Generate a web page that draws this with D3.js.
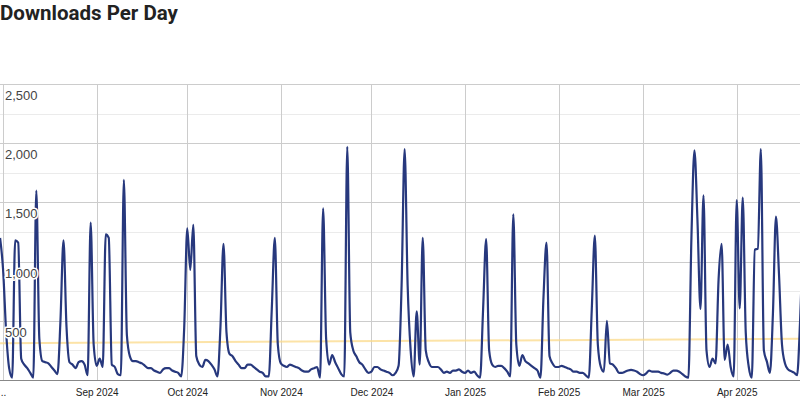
<!DOCTYPE html>
<html><head><meta charset="utf-8">
<script src="https://cdn.jsdelivr.net/npm/d3@7"></script>
<style>
html,body{margin:0;padding:0;background:#fff;overflow:hidden}
svg{display:block}
</style></head><body>
<svg id="chart" width="800" height="401"></svg>
<script>
const title = "Downloads Per Day";
const startDate = "2024-07-31";
// one value per day, starting at startDate
const downloads = [
  1200, 930, 410, 100, 20, 1180, 1160, 180, 130, 100, 60, 20,
  1600, 350, 160, 150, 140, 110, 80, 50, 500, 1180, 450, 150,
  130, 100, 150, 160, 130, 40, 1330, 300, 120, 180, 110, 1230,
  1200, 130, 110, 50, 40, 1690, 380, 200, 160, 160, 150, 140,
  120, 100, 100, 80, 70, 60, 90, 100, 100, 80, 70, 60,
  30, 450, 1280, 930, 1310, 200, 130, 110, 170, 160, 130, 90,
  30, 450, 1150, 400, 220, 200, 160, 130, 100, 100, 130, 130,
  110, 90, 70, 60, 30, 30, 600, 1200, 300, 140, 120, 110,
  130, 120, 110, 100, 80, 70, 70, 90, 100, 110, 20, 1450,
  350, 130, 210, 150, 100, 50, 30, 1970, 400, 250, 200, 150,
  130, 90, 60, 70, 110, 110, 90, 80, 70, 60, 40, 60,
  120, 800, 1950, 800, 250, 30, 580, 130, 1200, 250, 150, 110,
  110, 110, 90, 60, 70, 60, 80, 80, 90, 70, 60, 80,
  60, 70, 40, 20, 600, 1190, 250, 130, 110, 120, 120, 100,
  70, 30, 1400, 300, 120, 210, 160, 140, 120, 100, 80, 20,
  700, 1160, 200, 140, 110, 110, 120, 110, 100, 90, 70, 70,
  60, 60, 40, 20, 600, 1220, 300, 110, 70, 500, 140, 130,
  100, 60, 60, 70, 80, 85, 80, 70, 50, 40, 55, 80,
  70, 70, 70, 60, 55, 45, 60, 80, 80, 70, 50, 30,
  20, 1200, 1940, 1350, 600, 1560, 250, 110, 180, 140, 850, 1150,
  170, 300, 110, 30, 1520, 605, 1540, 400, 110, 20, 1100, 1110,
  1950, 250, 155, 60, 560, 1380, 900, 300, 140, 90, 75, 62,
  40, 500, 1200
];
// linear trendline, read at the first and the last day
const trendValues = [310, 349];
const yTickValues = [500, 1000, 1500, 2000, 2500];
const yTickLabels = ["500", "1,000", "1,500", "2,000", "2,500"];
const yMinorValues = [250, 750, 1250, 1750, 2250];
const xTickDates = ["2024-08-01", "2024-09-01", "2024-10-01", "2024-11-01", "2024-12-01",
                    "2025-01-01", "2025-02-01", "2025-03-01", "2025-04-01"];
const xTickLabels = ["..", "Sep 2024", "Oct 2024", "Nov 2024", "Dec 2024",
                     "Jan 2025", "Feb 2025", "Mar 2025", "Apr 2025"];

const W = 800, H = 401;
const plot = {left: 0, right: 800, top: 84, bottom: 380};
const parse = d3.timeParse("%Y-%m-%d");
const start = parse(startDate);
const data = downloads.map((v, i) => ({date: d3.timeDay.offset(start, i), value: v}));
const tickDates = xTickDates.map(parse);

const x = d3.scaleTime()
  .domain([parse("2024-08-01"), parse("2025-04-01")])
  .range([3.1, 736.7]);
const y = d3.scaleLinear().domain([0, 2500]).range([plot.bottom, plot.top]);

const svg = d3.select("#chart");
svg.append("rect").attr("width", W).attr("height", H).attr("fill", "#fff");

// title
const t = svg.append("text")
  .attr("x", 0).attr("y", 19.5)
  .attr("font-family", "Roboto, Arial, sans-serif")
  .attr("font-weight", 700)
  .attr("font-size", 20)
  .attr("fill", "#222")
  .text(title);
const tw = t.node().getComputedTextLength();
t.attr("font-size", 20 * 178 / tw);

svg.append("defs").append("clipPath").attr("id", "clip")
  .append("rect").attr("x", plot.left).attr("y", plot.top - 2)
  .attr("width", plot.right - plot.left).attr("height", plot.bottom - plot.top + 2);

const grid = svg.append("g");
// minor horizontal
grid.selectAll("line.minor").data(yMinorValues).join("line")
  .attr("x1", plot.left).attr("x2", plot.right)
  .attr("y1", d => Math.round(y(d)) + 0.5).attr("y2", d => Math.round(y(d)) + 0.5)
  .attr("stroke", "#ebebeb").attr("stroke-width", 1);
// major horizontal
grid.selectAll("line.major").data(yTickValues).join("line")
  .attr("x1", plot.left).attr("x2", plot.right)
  .attr("y1", d => Math.round(y(d)) + 0.5).attr("y2", d => Math.round(y(d)) + 0.5)
  .attr("stroke", "#cccccc").attr("stroke-width", 1);
// vertical month lines
grid.selectAll("line.v").data(tickDates).join("line")
  .attr("x1", d => Math.round(x(d)) + 0.5).attr("x2", d => Math.round(x(d)) + 0.5)
  .attr("y1", plot.top).attr("y2", plot.bottom)
  .attr("stroke", "#cccccc").attr("stroke-width", 1);

// trendline
svg.append("g").attr("clip-path", "url(#clip)")
  .append("line")
  .attr("x1", x(data[0].date)).attr("y1", y(trendValues[0]))
  .attr("x2", x(data[data.length - 1].date)).attr("y2", y(trendValues[1]))
  .attr("stroke", "#fbd98a").attr("stroke-opacity", 0.75).attr("stroke-width", 2);

// data line
const line = d3.line().x(d => x(d.date)).y(d => y(d.value)).curve(d3.curveMonotoneX);
svg.append("g").attr("clip-path", "url(#clip)")
  .append("path").datum(data)
  .attr("d", line)
  .attr("fill", "none")
  .attr("stroke", "#27387d")
  .attr("stroke-width", 2.2)
  .attr("stroke-linejoin", "round");

// x axis baseline
svg.append("line")
  .attr("x1", plot.left).attr("x2", plot.right)
  .attr("y1", plot.bottom + 0.5).attr("y2", plot.bottom + 0.5)
  .attr("stroke", "#888").attr("stroke-width", 1);

// x axis labels
const xAxis = d3.axisBottom(x).tickValues(tickDates)
  .tickFormat((d, i) => xTickLabels[i]).tickSize(0).tickPadding(0);
const gx = svg.append("g").attr("transform", `translate(0,${plot.bottom})`).call(xAxis);
gx.select(".domain").remove();
gx.selectAll("text")
  .attr("dy", null).attr("y", 16)
  .attr("font-family", "Arial, 'Liberation Sans', sans-serif")
  .attr("font-size", 10).attr("fill", "#222");

// y axis labels (inside the plot)
const yAxis = d3.axisRight(y).tickValues(yTickValues)
  .tickFormat((d, i) => yTickLabels[i]).tickSize(0).tickPadding(0);
const gy = svg.append("g").attr("transform", "translate(5,0)").call(yAxis);
gy.select(".domain").remove();
gy.selectAll("text")
  .attr("dy", null).attr("y", 15.5).attr("x", 0)
  .attr("text-anchor", "start")
  .attr("font-family", "Arial, 'Liberation Sans', sans-serif")
  .attr("font-size", 13).attr("fill", "#444")
  .attr("stroke", "#fff").attr("stroke-width", 3)
  .attr("paint-order", "stroke").attr("stroke-linejoin", "round");
</script>
</body></html>
